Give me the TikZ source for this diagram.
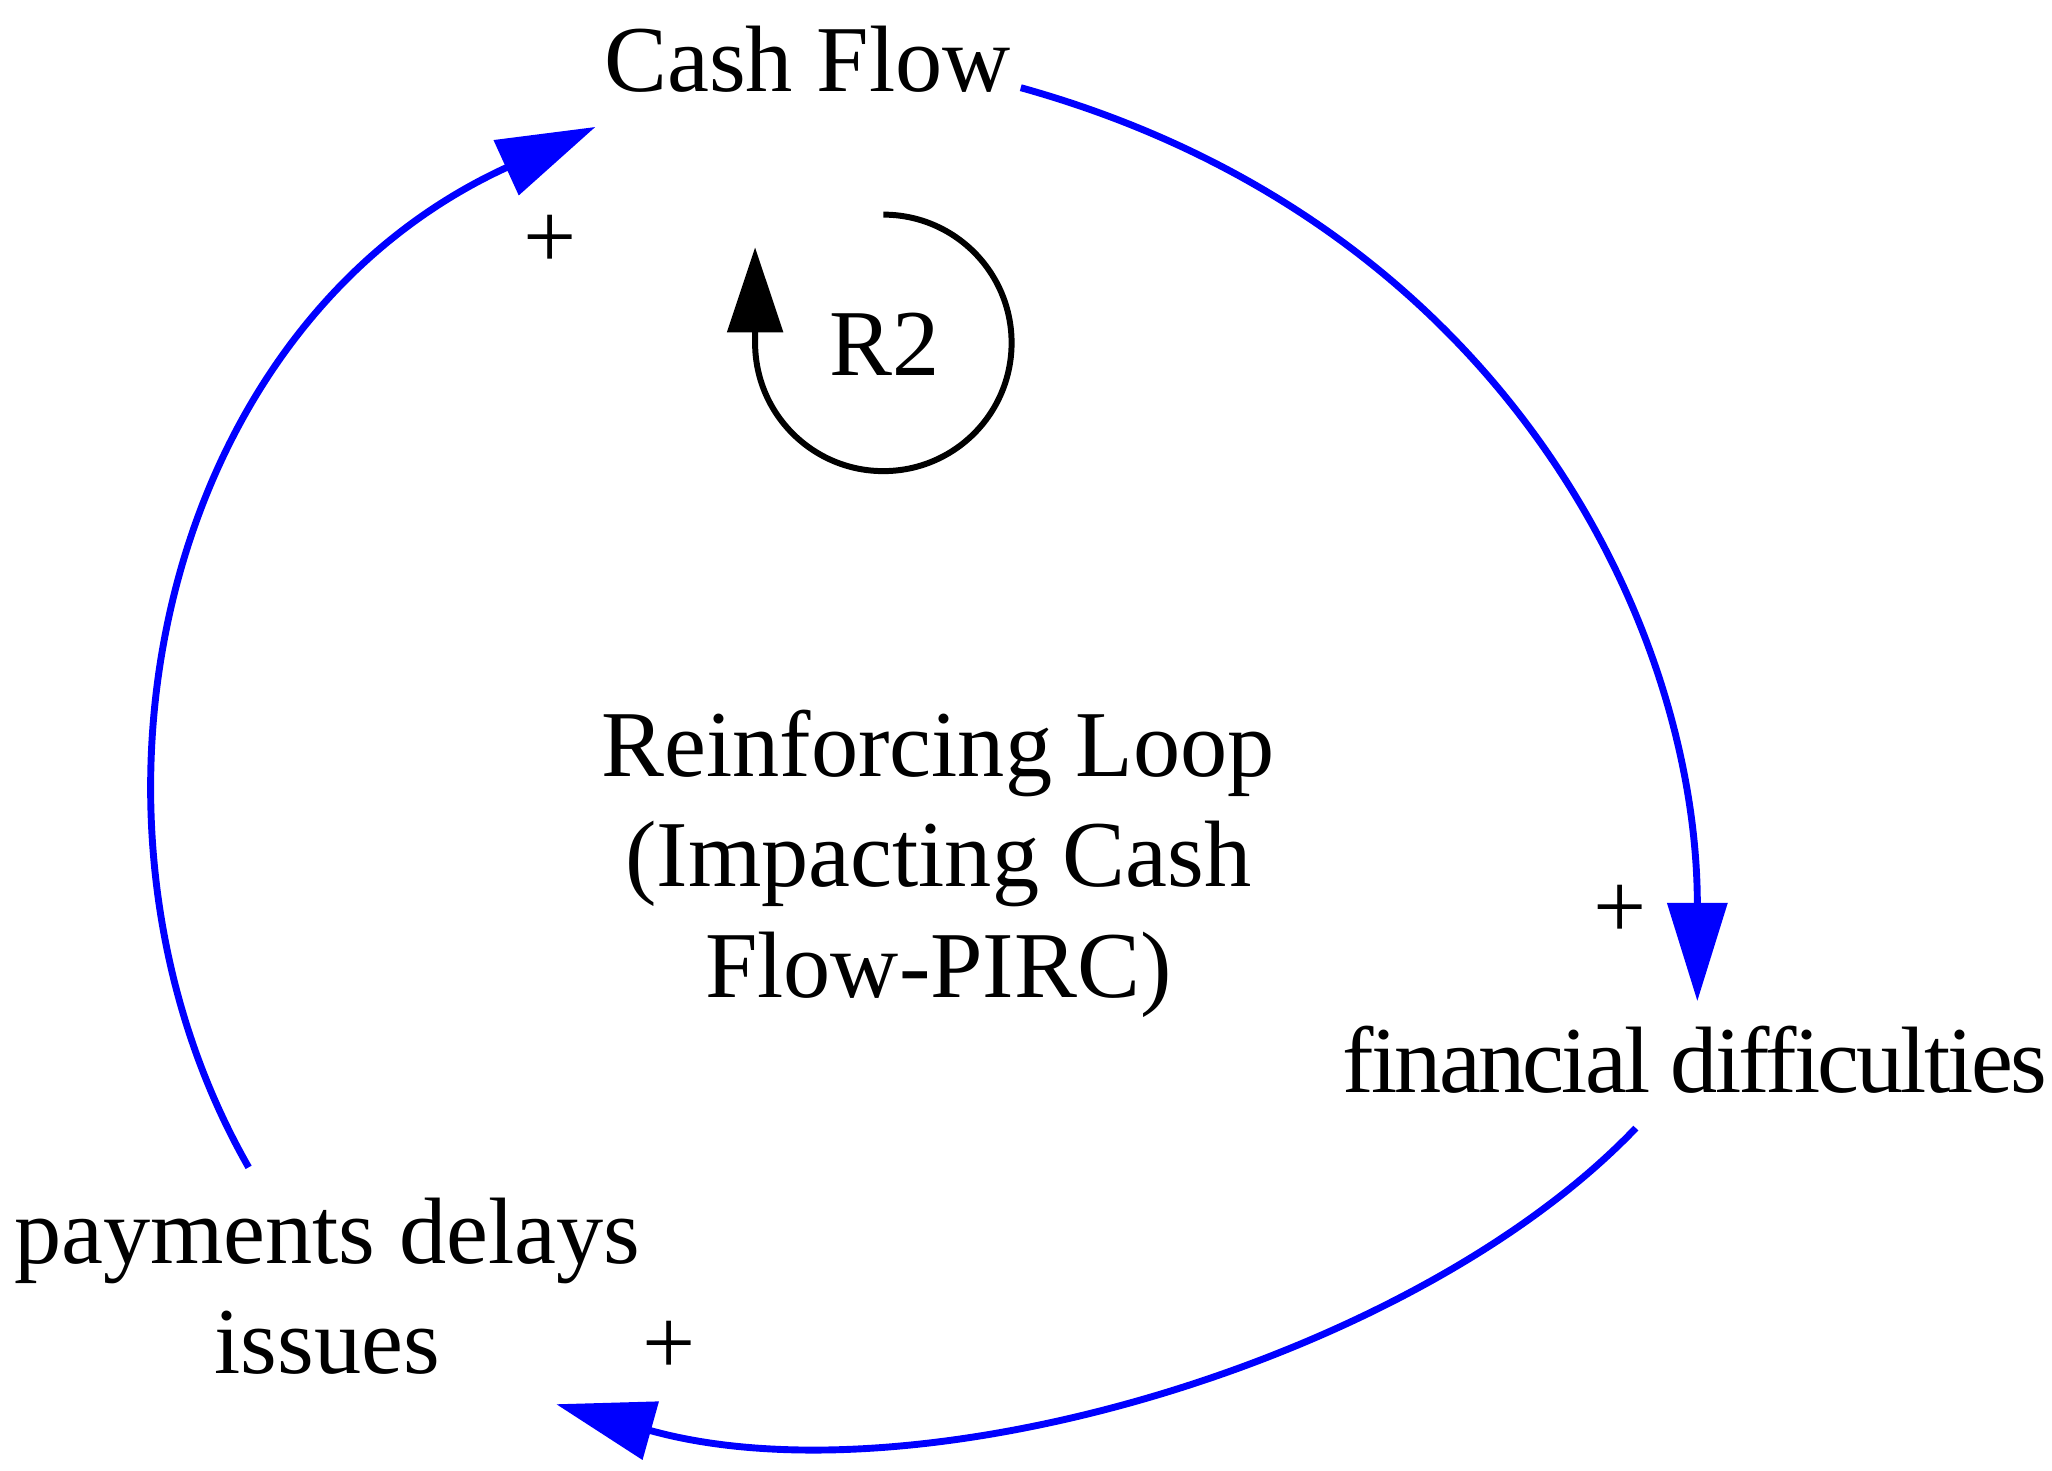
\documentclass[tikz,border=0pt]{standalone}
\usepackage{fontspec}
\setmainfont{Liberation Serif}
\usetikzlibrary{arrows.meta}
\begin{document}
\begin{tikzpicture}[x=0.01cm,y=-0.01cm,
  lbl/.style={font=\fontsize{20.5}{24}\selectfont, inner sep=0pt, align=center},
  link/.style={draw=blue, line width=1.5pt, -{Triangle[length=7.5mm,width=4.5mm]}},
  loop/.style={draw=black, line width=1.3pt, -{Triangle[length=6.5mm,width=4.2mm]}}]
\useasboundingbox (0,0) rectangle (1568,1124);
\node[lbl] (cf) at (617,45) {Cash Flow};
\node[lbl, font=\fontsize{20.5}{24}\selectfont\addfontfeature{LetterSpace=-3}] (fd) at (1295,810) {financial difficulties};
\node[lbl] (pd) at (250,983) {payments delays\\issues};
\node[lbl] (rl) at (717,660) {Reinforcing Loop\\(Impacting Cash\\Flow-PIRC)};
\node[lbl] (r2) at (676,263) {R2};
\node[lbl] (p1) at (420,185) {+};
\node[lbl] (p2) at (1238,697) {+};
\node[lbl] (p3) at (511,1030) {+};
\coordinate (a1s) at (780,67);
\coordinate (a1e) at (1297,765);
\coordinate (a2s) at (1250,862);
\coordinate (a2e) at (425,1073);
\coordinate (a3s) at (190,892);
\coordinate (a3e) at (455,97);
\draw[link] (a1s) .. controls (1150,170) and (1297,480) .. (a1e);
\draw[link] (a2s) .. controls (1080,1040) and (700,1150) .. (a2e);
\draw[link] (a3s) .. controls (40,630) and (120,250) .. (a3e);
\coordinate (ls) at (675,164);
\draw[loop] (ls) arc[start angle=-90, end angle=180, radius=98] -- ++(0,-73);
\end{tikzpicture}
\end{document}
